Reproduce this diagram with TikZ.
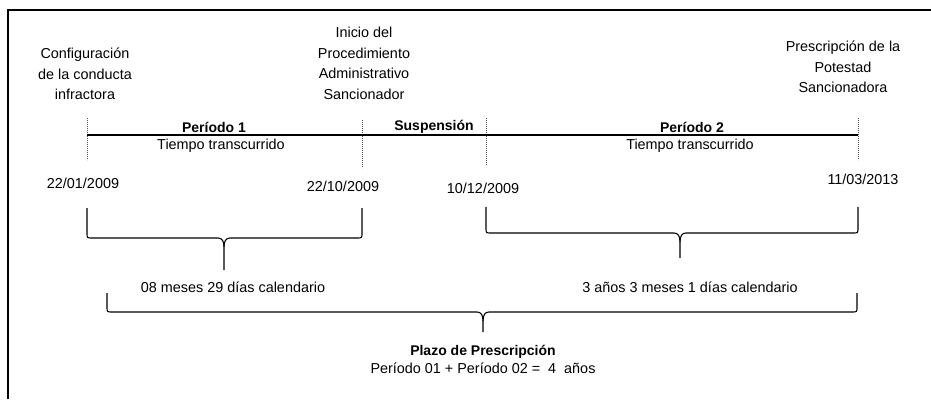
\documentclass[tikz,border=0pt]{standalone}
\usepackage{fontspec}
\setmainfont{Liberation Sans}
\begin{document}
\begin{tikzpicture}[x=1pt,y=-1pt,
  lbl/.style={inner sep=0pt,align=center,font=\fontsize{14.4}{20.5}\selectfont},
  bl/.style={lbl,font=\fontsize{14}{16}\selectfont\bfseries},
  tick/.style={draw=black!70,line width=0.7pt,dash pattern=on 1.2pt off 0.8pt},
  brace/.style={draw=black,line width=1.1pt,line join=round}]
\useasboundingbox (0,0) rectangle (931,399);
% frame
\draw[line width=2pt] (8,399) -- (8,10) -- (931,10);
% timeline coordinates
\coordinate (t1) at (87,118);  \coordinate (b1) at (87,160);
\coordinate (t2) at (362,120); \coordinate (b2) at (362,168);
\coordinate (t3) at (486,118); \coordinate (b3) at (486,165);
\coordinate (t4) at (858,118); \coordinate (b4) at (858,160);
\coordinate (h1) at (87,135); \coordinate (h4) at (858,135);
\draw[tick] (t1) -- (b1);
\draw[tick] (t2) -- (b2);
\draw[tick] (t3) -- (b3);
\draw[tick] (t4) -- (b4);
\draw[line width=1.3pt] (h1) -- (h4);
% top labels
\node[lbl,anchor=north] (conf) at (85,48) {Configuración\\de la conducta\\infractora};
\node[lbl,anchor=north] (ini) at (364,27) {Inicio del\\Procedimiento\\Administrativo\\Sancionador};
\node[lbl,anchor=north] (pres) at (843,41) {Prescripción de la\\Potestad\\Sancionadora};
% period labels
\node[bl] (p1) at (214,127) {Período 1};
\node[lbl] (tt1) at (221,146) {Tiempo transcurrido};
\node[bl] (susp) at (434,127) {Suspensión};
\node[bl] (p2) at (692,127) {Período 2};
\node[lbl] (tt2) at (690,146) {Tiempo transcurrido};
% dates
\node[lbl] (d1) at (83,183) {22/01/2009};
\node[lbl] (d2) at (343,186) {22/10/2009};
\node[lbl] (d3) at (483,188) {10/12/2009};
\node[lbl] (d4) at (863,179) {11/03/2013};
% brace 1
\draw[brace] (87,208) -- (87,233) .. controls (87,238) .. (92,238) -- (218,238)
  .. controls (222,238) and (224,241) .. (224,247) -- (224,270);
\draw[brace] (362,208) -- (362,233) .. controls (362,238) .. (357,238) -- (230,238)
  .. controls (226,238) and (224,241) .. (224,247);
\coordinate (tip1) at (224,270);
\node[lbl] (m1) at (233,287) {08 meses 29 días calendario};
% brace 2
\draw[brace] (486,207) -- (486,228) .. controls (486,233) .. (491,233) -- (674,233)
  .. controls (678,233) and (680,236) .. (680,242) -- (680,258);
\draw[brace] (858,207) -- (858,228) .. controls (858,233) .. (853,233) -- (686,233)
  .. controls (682,233) and (680,236) .. (680,242);
\coordinate (tip2) at (680,258);
\node[lbl] (m2) at (690,287) {3 años 3 meses 1 días calendario};
% brace 3
\draw[brace] (107,293) -- (107,307) .. controls (107,312) .. (112,312) -- (477,312)
  .. controls (481,312) and (483,315) .. (483,321) -- (483,332);
\draw[brace] (857,293) -- (857,307) .. controls (857,312) .. (852,312) -- (489,312)
  .. controls (485,312) and (483,315) .. (483,321);
\coordinate (tip3) at (483,332);
\node[bl] (plazo) at (483,352) {Plazo de Prescripción};
\node[lbl] (suma) at (483,368) {Período 01 + Período 02 =\ \ 4\ \ años};
\end{tikzpicture}
\end{document}
